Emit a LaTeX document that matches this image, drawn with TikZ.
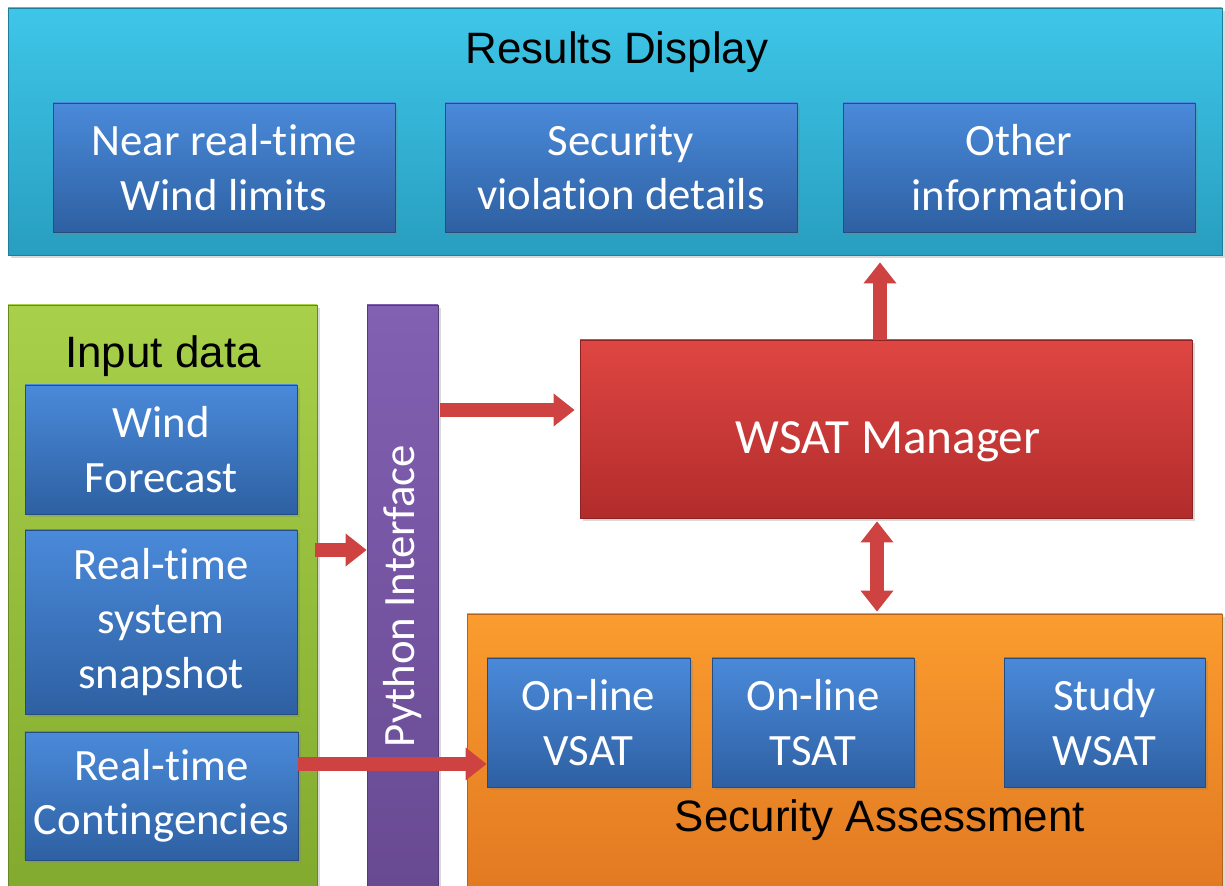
\documentclass[tikz,border=0pt]{standalone}
\usepackage{fontspec}
\setmainfont{Carlito}[RawFeature={-liga}]
\newfontfamily\arial{Liberation Sans}
\usetikzlibrary{arrows.meta,shadows}

\definecolor{cyantop}{RGB}{62,198,232}
\definecolor{cyanbot}{RGB}{40,158,192}
\definecolor{bluetop}{RGB}{74,138,218}
\definecolor{bluebot}{RGB}{46,96,162}
\definecolor{greentop}{RGB}{168,208,74}
\definecolor{greenbot}{RGB}{130,170,46}
\definecolor{purpletop}{RGB}{130,96,178}
\definecolor{purplebot}{RGB}{104,74,146}
\definecolor{redtop}{RGB}{222,70,66}
\definecolor{redbot}{RGB}{178,44,44}
\definecolor{orangetop}{RGB}{250,156,46}
\definecolor{orangebot}{RGB}{226,122,34}
\definecolor{arrowred}{RGB}{206,66,66}

\begin{document}
\begin{tikzpicture}[
  panel/.style={draw=#1bot!80!black, top color=#1top, bottom color=#1bot,
    inner sep=0pt, drop shadow={opacity=0.3,shadow xshift=0.06,shadow yshift=-0.06}},
  bluebox/.style={panel=blue, text=white, align=center,
    font=\fontsize{25.5}{31}\selectfont},
  titletext/.style={font=\arial\fontsize{25}{30}\selectfont, text=black},
  fatarrow/.style={line width=8pt, draw=arrowred, -{Triangle[width=18pt,length=12pt]}},
  fatboth/.style={line width=8pt, draw=arrowred, {Triangle[width=18pt,length=12pt]}-{Triangle[width=18pt,length=12pt]}}
]
\useasboundingbox (0,0) rectangle (24.5,17.72);
% results display
\node[panel=cyan, minimum width=24.28cm, minimum height=4.94cm] (results) at (12.3,15.09) {};
\node[titletext] (restitle) at (12.34,16.68) {Results Display};
\node[bluebox, minimum width=6.84cm, minimum height=2.58cm] (near) at (4.48,14.37) {Near real-time\\Wind limits};
\node[bluebox, minimum width=7.04cm, minimum height=2.58cm] (secviol) at (12.42,14.37) {Security\\violation details};
\node[bluebox, minimum width=7.04cm, minimum height=2.58cm] (other) at (20.38,14.37) {Other\\information};
% input data
\node[panel=green, minimum width=6.18cm, minimum height=11.62cm] (input) at (3.25,5.81) {};
\node[titletext] (intitle) at (3.26,10.6) {Input data};
\node[bluebox, minimum width=5.44cm, minimum height=2.58cm] (wind) at (3.22,8.73) {Wind\\Forecast};
\node[bluebox, minimum width=5.44cm, minimum height=3.68cm] (snap) at (3.22,5.28) {Real-time\\system\\snapshot};
\node[bluebox, minimum width=5.46cm, minimum height=2.56cm] (cont) at (3.23,1.8) {Real-time\\Contingencies};
% python interface
\node[panel=purple, minimum width=1.42cm, minimum height=11.62cm] (python) at (8.05,5.81) {};
\node[rotate=90, text=white, font=\fontsize{25.5}{31}\selectfont] (pytext) at (8.05,5.8) {Python Interface};
% manager
\node[panel=red, minimum width=12.24cm, minimum height=3.56cm] (wsat) at (17.72,9.14) {};
\node[text=white, font=\fontsize{28}{34}\selectfont] (wsattext) at (17.76,8.88) {WSAT Manager};
% security assessment
\node[panel=orange, minimum width=15.1cm, minimum height=5.44cm] (secass) at (16.89,2.72) {};
\node[titletext] (sectitle) at (17.6,1.32) {Security Assessment};
\node[bluebox, minimum width=4.06cm, minimum height=2.58cm] (vsat) at (11.77,3.27) {On-line\\VSAT};
\node[bluebox, minimum width=4.04cm, minimum height=2.58cm] (tsat) at (16.26,3.27) {On-line\\TSAT};
\node[bluebox, minimum width=4.02cm, minimum height=2.58cm] (study) at (22.09,3.27) {Study\\WSAT};
% arrows
\draw[fatarrow] ([xshift=0.04cm]python.east |- 0,9.52) -- ([xshift=-0.1cm]wsat.west |- 0,9.52);
\draw[fatarrow] ([xshift=-0.04cm]input.east |- 0,6.72) -- (python.west |- 0,6.72);
\draw[fatarrow] (cont.east |- 0,2.44) -- (vsat.west |- 0,2.44);
\draw[fatarrow] (wsat.north -| 17.6,0) -- ([yshift=-0.14cm]results.south -| 17.6,0);
\draw[fatboth] ([yshift=-0.06cm]wsat.south -| 17.54,0) -- ([yshift=0.04cm]secass.north -| 17.54,0);
\end{tikzpicture}
\end{document}
